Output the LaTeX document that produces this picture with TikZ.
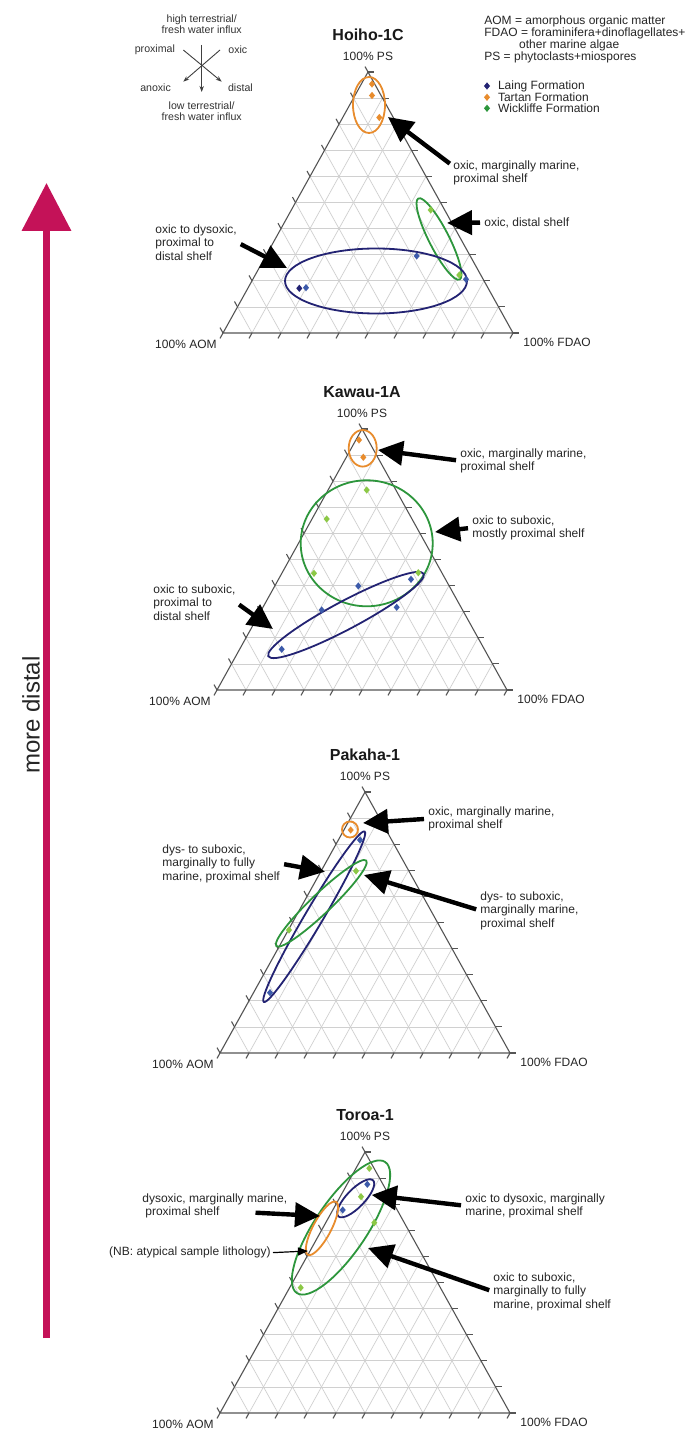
\documentclass[tikz,border=0pt]{standalone}
\usepackage{fontspec}
\setmainfont{Liberation Sans}
\usepackage{tikz}
\usetikzlibrary{arrows.meta, shapes.geometric, positioning, calc}

\definecolor{laingnavy}{RGB}{35,35,115}
\definecolor{laingblue}{RGB}{60,90,170}
\definecolor{tartanorange}{RGB}{232,140,45}
\definecolor{wickgreen}{RGB}{45,150,60}
\definecolor{wicklight}{RGB}{140,200,70}
\definecolor{distalred}{RGB}{196,18,88}
\definecolor{edgegray}{RGB}{85,85,85}
\definecolor{gridgray}{RGB}{208,208,208}

\begin{document}
\begin{tikzpicture}[
    x=0.5pt, y=-0.5pt,
    note/.style={font=\fontsize{6}{6.75}\selectfont, align=left, inner sep=0pt, anchor=north west, text=black!85},
    vlabel/.style={font=\fontsize{6}{7}\selectfont, inner sep=0pt, text=black!85},
    ptitle/.style={font=\fontsize{8}{9}\selectfont\bfseries, inner sep=0pt, text=black!90},
    gridline/.style={draw=gridgray, line width=0.35pt},
    ternedge/.style={draw=edgegray, line width=0.55pt},
    mk/.style={diamond, fill=#1, inner sep=0pt, minimum width=3.2pt, minimum height=3.8pt},
    ring/.style={draw=#1, line width=0.9pt},
    bigarrow/.style={-{Triangle[length=12.5pt, width=12pt]}, line width=2.2pt, shorten <=2pt},
    thinarrow/.style={-{Triangle[length=5pt, width=4pt]}, line width=0.6pt, shorten <=1pt},
    dirarrow/.style={-{Stealth[length=3pt, width=2.2pt]}, line width=0.45pt, draw=black!75},
    dirlbl/.style={font=\fontsize{5.3}{5.5}\selectfont, inner sep=0pt, align=center, text=black!80},
    gradarrow/.style={-{Triangle[length=24pt, width=24pt]}, line width=3.5pt, draw=distalred},
    ternary/.pic={
        \foreach \i in {1,...,9} {
            \draw[gridline] ({-14.5*\i},{26.1*\i}) -- ({14.5*\i},{26.1*\i});
            \draw[gridline] ({-145+14.5*\i},{261-26.1*\i}) -- ({-145+29*\i},261);
            \draw[gridline] ({145-14.5*\i},{261-26.1*\i}) -- ({145-29*\i},261);
        }
        \foreach \i in {0,...,10} {
            \draw[ternedge] ({-145+14.5*\i},{261-26.1*\i}) -- ++(-3,-5.4);
            \draw[ternedge] ({-145+29*\i},261) -- ++(-3,5.4);
            \draw[ternedge] ({145-14.5*\i},{261-26.1*\i}) -- ++(6.2,0);
        }
        \draw[ternedge] (0,0) coordinate (-top) -- (-145,261) coordinate (-left)
            -- (145,261) coordinate (-right) -- cycle;
    }
    ]

    \fill[white] (0,0) rectangle (686,1438);

    % Direction key
    \coordinate (c-n) at (201.7,45);
    \coordinate (c-s) at (201.7,92);
    \coordinate (c-nw) at (183.3,50);
    \coordinate (c-se) at (221.7,81.7);
    \coordinate (c-ne) at (220,50);
    \coordinate (c-sw) at (183.3,81.7);
    \draw[dirarrow] (c-n) -- (c-s);
    \draw[dirarrow] (c-nw) -- (c-se);
    \draw[dirarrow] (c-ne) -- (c-sw);
    \node[dirlbl, above=5.5pt of c-n] (c-high) {high terrestrial/\\fresh water influx};
    \node[dirlbl, below=4.8pt of c-s] (c-low) {low terrestrial/\\fresh water influx};
    \node[dirlbl, left=4pt of c-nw] (c-prox) {proximal};
    \node[dirlbl, right=4pt of c-ne] (c-oxic) {oxic};
    \node[dirlbl, below left=1pt and 6pt of c-sw] (c-anox) {anoxic};
    \node[dirlbl, below right=1pt and 3pt of c-se] (c-dist) {distal};

    % Legend
    \node[note, font=\fontsize{6}{6.1}\selectfont] (key) at (484,15)
        {AOM = amorphous organic matter\\FDAO = foraminifera+dinoflagellates+\\\hspace*{2.9em}other marine algae\\PS = phytoclasts+miospores};
    \node[mk=laingnavy] (k-laing) at (487,86) {};
    \node[mk=tartanorange] (k-tartan) at (487,97.3) {};
    \node[mk=wickgreen] (k-wick) at (487,108.3) {};
    \node[note, right=3.5pt of k-laing] (k-laing-t) {Laing Formation};
    \node[note, right=3.5pt of k-tartan] (k-tartan-t) {Tartan Formation};
    \node[note, right=3.5pt of k-wick] (k-wick-t) {Wickliffe Formation};

    % More distal
    \coordinate (md-bot) at (46.5,1338);
    \coordinate (md-top) at (46.5,183);
    \draw[gradarrow] (md-bot) -- (md-top);
    \node[font=\fontsize{12}{12}\selectfont, rotate=90, inner sep=0pt, text=black!85] (md-lbl) at (31,715) {more distal};

    % Hoiho-1C
    \pic (t1) at (368,72) {ternary};
    \node[vlabel, above=5.5pt of t1-top] (t1-ps) {100\% PS};
    \node[ptitle, above=5.5pt of t1-ps] (t1-name) {Hoiho-1C};
    \node[vlabel, below left=3.5pt and 3pt of t1-left] (t1-aom) {100\% AOM};
    \node[vlabel, below right=2.5pt and 5pt of t1-right] (t1-fdao) {100\% FDAO};
    \draw[ring=tartanorange] (369,105) ellipse [x radius=16, y radius=28];
    \draw[ring=wickgreen, rotate around={-63:(439,239)}] (439,239) ellipse [x radius=45.5, y radius=10];
    \draw[ring=laingnavy] (376,281) ellipse [x radius=91, y radius=32.5];
    \node[mk=tartanorange] (t1-t1) at (372,84) {};
    \node[mk=tartanorange] (t1-t2) at (372,95.5) {};
    \node[mk=tartanorange] (t1-t3) at (379.3,117.5) {};
    \node[mk=wicklight] (t1-w1) at (430.7,210) {};
    \node[mk=wicklight] (t1-w2) at (459.3,275) {};
    \node[mk=laingnavy] (t1-l1) at (299.3,288.3) {};
    \node[mk=laingblue] (t1-l2) at (306,287.7) {};
    \node[mk=laingblue] (t1-l3) at (416.7,256) {};
    \node[mk=laingblue] (t1-l4) at (466,279.3) {};
    \coordinate (t1-a1) at (388,117);
    \coordinate (t1-a2) at (447,223);
    \coordinate (t1-a3) at (287,268);
    \node[note] (t1-n1) at (453,160) {oxic, marginally marine,\\proximal shelf};
    \node[note] (t1-n2) at (484,217) {oxic, distal shelf};
    \node[note] (t1-n3) at (155,224) {oxic to dysoxic,\\proximal to\\distal shelf};
    \draw[bigarrow] ([yshift=-3pt]t1-n1.north west) -- (t1-a1);
    \draw[bigarrow] (t1-n2.west) -- (t1-a2);
    \draw[bigarrow] (t1-n3.east) -- (t1-a3);

    % Kawau-1A
    \pic (t2) at (362,429) {ternary};
    \node[vlabel, above=5.5pt of t2-top] (t2-ps) {100\% PS};
    \node[ptitle, above=5.5pt of t2-ps] (t2-name) {Kawau-1A};
    \node[vlabel, below left=3.5pt and 3pt of t2-left] (t2-aom) {100\% AOM};
    \node[vlabel, below right=2.5pt and 5pt of t2-right] (t2-fdao) {100\% FDAO};
    \draw[ring=tartanorange] (362.7,448.3) ellipse [x radius=14, y radius=18.3];
    \draw[ring=wickgreen] (366.7,543.3) ellipse [x radius=66, y radius=63];
    \draw[ring=laingnavy, rotate around={28:(346,615)}] (346,615) ellipse [x radius=88, y radius=14];
    \node[mk=tartanorange] (t2-t1) at (359,440) {};
    \node[mk=tartanorange] (t2-t2) at (363.3,457.3) {};
    \node[mk=wicklight] (t2-w1) at (366.7,490) {};
    \node[mk=wicklight] (t2-w2) at (326.7,519) {};
    \node[mk=wicklight] (t2-w3) at (314,573.3) {};
    \node[mk=wicklight] (t2-w4) at (418.3,572.7) {};
    \node[mk=laingblue] (t2-l1) at (281.7,649.3) {};
    \node[mk=laingblue] (t2-l2) at (321.7,610) {};
    \node[mk=laingblue] (t2-l3) at (358.3,586) {};
    \node[mk=laingblue] (t2-l4) at (396.7,607.3) {};
    \node[mk=laingblue] (t2-l5) at (411,579.3) {};
    \coordinate (t2-a1) at (378,450);
    \coordinate (t2-a2) at (435,532);
    \coordinate (t2-a3) at (273,629);
    \node[note] (t2-n1) at (460,448) {oxic, marginally marine,\\proximal shelf};
    \node[note] (t2-n2) at (472,515) {oxic to suboxic,\\mostly proximal shelf};
    \node[note] (t2-n3) at (153,584) {oxic to suboxic,\\proximal to\\distal shelf};
    \draw[bigarrow] (t2-n1.west) -- (t2-a1);
    \draw[bigarrow] (t2-n2.west) -- (t2-a2);
    \draw[bigarrow] (t2-n3.east) -- (t2-a3);

    % Pakaha-1
    \pic (t3) at (365,792) {ternary};
    \node[vlabel, above=5.5pt of t3-top] (t3-ps) {100\% PS};
    \node[ptitle, above=5.5pt of t3-ps] (t3-name) {Pakaha-1};
    \node[vlabel, below left=3.5pt and 3pt of t3-left] (t3-aom) {100\% AOM};
    \node[vlabel, below right=2.5pt and 5pt of t3-right] (t3-fdao) {100\% FDAO};
    \draw[ring=tartanorange] (350,829.5) circle [radius=8];
    \draw[ring=laingnavy, rotate around={59.4:(314.2,916.7)}] (314.2,916.7) ellipse [x radius=99, y radius=9];
    \draw[ring=wickgreen, rotate around={43.6:(321.3,903.3)}] (321.3,903.3) ellipse [x radius=62, y radius=10];
    \node[mk=tartanorange] (t3-t1) at (350.7,830) {};
    \node[mk=wicklight] (t3-w1) at (356,871) {};
    \node[mk=wicklight] (t3-w2) at (289,930) {};
    \node[mk=laingblue] (t3-l1) at (360,840) {};
    \node[mk=laingblue] (t3-l2) at (270,992.7) {};
    \coordinate (t3-a1) at (363,823);
    \coordinate (t3-a2) at (325,871.7);
    \coordinate (t3-a3) at (364,875);
    \node[note] (t3-n1) at (428,806) {oxic, marginally marine,\\proximal shelf};
    \node[note] (t3-n2) at (162,844) {dys- to suboxic,\\marginally to fully\\marine, proximal shelf};
    \node[note] (t3-n3) at (480,891) {dys- to suboxic,\\marginally marine,\\proximal shelf};
    \draw[bigarrow] (t3-n1.west) -- (t3-a1);
    \draw[bigarrow] (t3-n2.east) -- (t3-a2);
    \draw[bigarrow] (t3-n3.west) -- (t3-a3);

    % Toroa-1
    \pic (t4) at (365,1152) {ternary};
    \node[vlabel, above=5.5pt of t4-top] (t4-ps) {100\% PS};
    \node[ptitle, above=5.5pt of t4-ps] (t4-name) {Toroa-1};
    \node[vlabel, below left=3.5pt and 3pt of t4-left] (t4-aom) {100\% AOM};
    \node[vlabel, below right=2.5pt and 5pt of t4-right] (t4-fdao) {100\% FDAO};
    \draw[ring=wickgreen, rotate around={56:(341,1227.5)}] (341,1227.5) ellipse [x radius=79, y radius=26];
    \draw[ring=laingnavy, rotate around={46:(355.7,1198.3)}] (355.7,1198.3) ellipse [x radius=25, y radius=9];
    \draw[ring=tartanorange, rotate around={62:(322,1228.3)}] (322,1228.3) ellipse [x radius=30, y radius=9];
    \node[mk=wicklight] (t4-w1) at (369.3,1168.3) {};
    \node[mk=wicklight] (t4-w2) at (361,1196.7) {};
    \node[mk=wicklight] (t4-w3) at (374.3,1222.7) {};
    \node[mk=wicklight] (t4-w4) at (300.7,1287.7) {};
    \node[mk=laingblue] (t4-l1) at (367.3,1184.3) {};
    \node[mk=laingblue] (t4-l2) at (342.7,1210) {};
    \coordinate (t4-a1) at (320,1216);
    \coordinate (t4-a2) at (308,1251);
    \coordinate (t4-a3) at (371.7,1195);
    \coordinate (t4-a4) at (368,1248);
    \node[note] (t4-n1) at (142,1193) {dysoxic, marginally marine,\\\hspace*{0.25em}proximal shelf};
    \node[note, anchor=east] (t4-n2) at (271,1252.7) {(NB: atypical sample lithology)};
    \node[note] (t4-n3) at (465,1193) {oxic to dysoxic, marginally\\marine, proximal shelf};
    \node[note] (t4-n4) at (493,1272) {oxic to suboxic,\\marginally to fully\\marine, proximal shelf};
    \draw[bigarrow] ([xshift=-18pt, yshift=3pt]t4-n1.south east) -- (t4-a1);
    \draw[thinarrow] (t4-n2.east) -- (t4-a2);
    \draw[bigarrow] (t4-n3.west) -- (t4-a3);
    \draw[bigarrow] (t4-n4.west) -- (t4-a4);
\end{tikzpicture}
\end{document}
